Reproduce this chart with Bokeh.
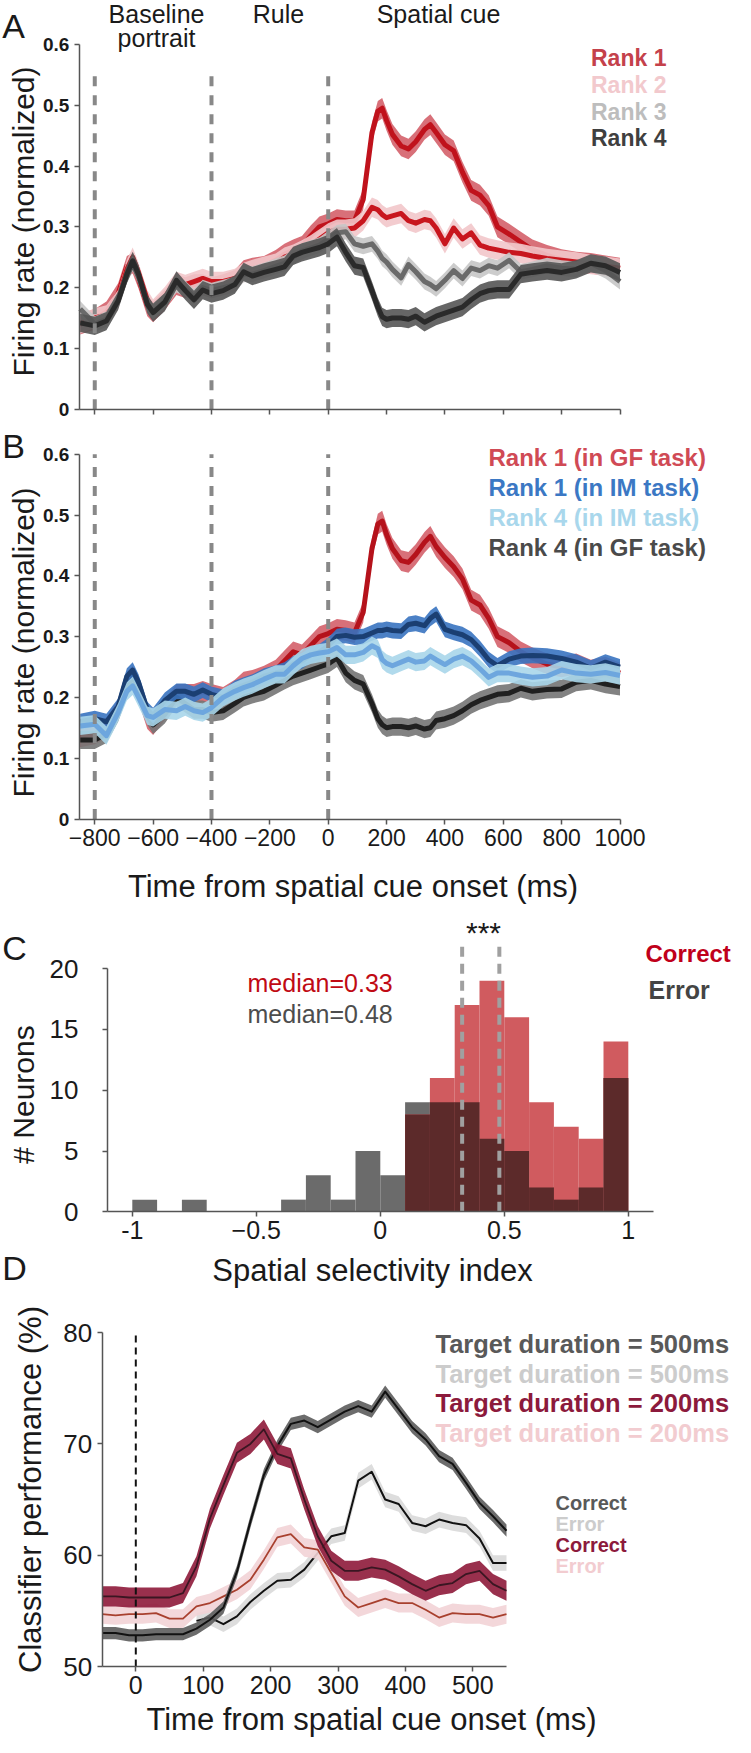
import numpy as np
from bokeh.plotting import figure
from bokeh.layouts import column
from bokeh.models import Label, Range1d, FixedTicker
from bokeh.embed import file_html
from bokeh.resources import INLINE

FONT = "Liberation Sans"
FIG_W = 735

# ================= DATA =================
# Panels A & B: time from spatial cue onset (ms)
t_ab = [-850, -800, -760, -720, -690, -670, -650, -620, -600, -560,
        -520, -490, -460, -430, -400, -360, -320, -290, -260, -220,
        -180, -150, -120, -90, -60, -30, 0, 30, 60, 90,
        120, 150, 170, 185, 200, 220, 250, 275, 300, 330,
        350, 370, 400, 430, 460, 490, 520, 550, 580, 620,
        660, 700, 750, 800, 850, 900, 950, 1000]

a_rank1 = [0.140, 0.148, 0.160, 0.190, 0.235, 0.240, 0.215, 0.170, 0.160, 0.180,
           0.205, 0.200, 0.205, 0.205, 0.200, 0.205, 0.212, 0.228, 0.232, 0.235,
           0.245, 0.255, 0.262, 0.268, 0.285, 0.300, 0.305, 0.312, 0.310, 0.310,
           0.345, 0.455, 0.490, 0.495, 0.475, 0.452, 0.433, 0.428, 0.440, 0.460,
           0.468, 0.455, 0.435, 0.425, 0.390, 0.360, 0.352, 0.335, 0.300, 0.288,
           0.275, 0.262, 0.253, 0.246, 0.242, 0.240, 0.236, 0.232]
a_rank2 = [0.140, 0.150, 0.155, 0.180, 0.230, 0.250, 0.225, 0.180, 0.165, 0.185,
           0.210, 0.205, 0.210, 0.215, 0.210, 0.210, 0.215, 0.225, 0.230, 0.235,
           0.240, 0.250, 0.255, 0.262, 0.270, 0.280, 0.290, 0.296, 0.296, 0.298,
           0.310, 0.332, 0.328, 0.320, 0.315, 0.318, 0.322, 0.310, 0.306, 0.312,
           0.310, 0.298, 0.272, 0.298, 0.280, 0.290, 0.270, 0.265, 0.262, 0.258,
           0.256, 0.252, 0.248, 0.245, 0.242, 0.238, 0.235, 0.232]
a_rank3 = [0.165, 0.140, 0.148, 0.180, 0.220, 0.240, 0.218, 0.172, 0.160, 0.178,
           0.205, 0.198, 0.185, 0.200, 0.195, 0.200, 0.205, 0.222, 0.222, 0.228,
           0.235, 0.240, 0.250, 0.260, 0.265, 0.270, 0.280, 0.290, 0.292, 0.272,
           0.268, 0.272, 0.260, 0.248, 0.242, 0.230, 0.216, 0.238, 0.226, 0.210,
           0.205, 0.198, 0.212, 0.228, 0.215, 0.232, 0.228, 0.236, 0.232, 0.245,
           0.226, 0.230, 0.236, 0.232, 0.230, 0.240, 0.228, 0.210]
a_rank4 = [0.142, 0.137, 0.145, 0.178, 0.222, 0.244, 0.222, 0.173, 0.159, 0.176,
           0.212, 0.195, 0.180, 0.196, 0.190, 0.195, 0.205, 0.226, 0.219, 0.225,
           0.230, 0.234, 0.252, 0.258, 0.262, 0.266, 0.272, 0.283, 0.258, 0.236,
           0.233, 0.195, 0.168, 0.152, 0.148, 0.150, 0.150, 0.148, 0.153, 0.143,
           0.148, 0.153, 0.158, 0.163, 0.168, 0.180, 0.190, 0.195, 0.197, 0.197,
           0.222, 0.225, 0.228, 0.225, 0.230, 0.240, 0.236, 0.225]
a_sem = [0.017, 0.016, 0.013, 0.015]
a_labels = ["Rank 1", "Rank 2", "Rank 3", "Rank 4"]

b_r1_gf = [0.135, 0.140, 0.150, 0.180, 0.225, 0.235, 0.210, 0.165, 0.155, 0.180,
           0.205, 0.205, 0.205, 0.210, 0.205, 0.200, 0.212, 0.225, 0.228, 0.235,
           0.245, 0.260, 0.275, 0.270, 0.285, 0.300, 0.305, 0.312, 0.310, 0.306,
           0.340, 0.445, 0.485, 0.490, 0.468, 0.445, 0.425, 0.422, 0.435, 0.455,
           0.465, 0.448, 0.430, 0.415, 0.395, 0.360, 0.352, 0.330, 0.300, 0.290,
           0.275, 0.265, 0.255, 0.250, 0.255, 0.245, 0.250, 0.240]
b_r4_gf = [0.130, 0.130, 0.140, 0.175, 0.215, 0.235, 0.215, 0.170, 0.155, 0.172,
           0.200, 0.190, 0.180, 0.180, 0.175, 0.178, 0.190, 0.200, 0.205, 0.210,
           0.220, 0.228, 0.235, 0.240, 0.245, 0.250, 0.255, 0.265, 0.240, 0.228,
           0.222, 0.190, 0.165, 0.155, 0.150, 0.152, 0.152, 0.150, 0.153, 0.148,
           0.150, 0.162, 0.165, 0.170, 0.178, 0.188, 0.195, 0.200, 0.205, 0.207,
           0.215, 0.210, 0.213, 0.214, 0.225, 0.228, 0.222, 0.218]
b_r1_im = [0.160, 0.165, 0.160, 0.185, 0.235, 0.245, 0.225, 0.180, 0.170, 0.195,
           0.210, 0.210, 0.205, 0.212, 0.205, 0.200, 0.215, 0.220, 0.225, 0.235,
           0.240, 0.245, 0.255, 0.260, 0.270, 0.275, 0.285, 0.300, 0.302, 0.299,
           0.300, 0.306, 0.310, 0.310, 0.312, 0.310, 0.309, 0.320, 0.322, 0.318,
           0.330, 0.337, 0.312, 0.307, 0.303, 0.295, 0.280, 0.262, 0.252, 0.263,
           0.268, 0.269, 0.268, 0.264, 0.258, 0.248, 0.258, 0.250]
b_r4_im = [0.153, 0.156, 0.137, 0.175, 0.210, 0.219, 0.200, 0.170, 0.167, 0.180,
           0.178, 0.185, 0.178, 0.175, 0.183, 0.200, 0.210, 0.216, 0.221, 0.230,
           0.238, 0.238, 0.252, 0.264, 0.270, 0.273, 0.275, 0.282, 0.270, 0.270,
           0.274, 0.285, 0.280, 0.262, 0.256, 0.252, 0.258, 0.263, 0.258, 0.260,
           0.268, 0.262, 0.254, 0.263, 0.268, 0.260, 0.247, 0.233, 0.240, 0.240,
           0.236, 0.233, 0.235, 0.245, 0.240, 0.238, 0.241, 0.236]
b_sem = [0.017, 0.013, 0.015, 0.015]
b_labels = ["Rank 1 (in GF task)", "Rank 1 (in IM task)", "Rank 4 (in IM task)", "Rank 4 (in GF task)"]

event_times = [-800, -400, 0]
epoch_names = ["Baseline", "portrait", "Rule", "Spatial cue"]
ab_xticks = [-800, -600, -400, -200, 0, 200, 400, 600, 800, 1000]
ab_yticks = [0, 0.1, 0.2, 0.3, 0.4, 0.5, 0.6]
ab_ylabel = "Firing rate (normalized)"
time_xlabel = "Time from spatial cue onset (ms)"

# Panel C: histogram of spatial selectivity index
hist_left = [-1.0, -0.9, -0.8, -0.7, -0.6, -0.5, -0.4, -0.3, -0.2, -0.1,
             0.0, 0.1, 0.2, 0.3, 0.4, 0.5, 0.6, 0.7, 0.8, 0.9]
hist_width = 0.1
hist_correct = [0, 0, 0, 0, 0, 0, 0, 0, 0, 0, 0, 8, 11, 17, 19, 16, 9, 7, 6, 14]
hist_error = [1, 0, 1, 0, 0, 0, 1, 3, 1, 5, 3, 9, 9, 9, 6, 5, 2, 1, 2, 11]
median_correct = 0.33
median_error = 0.48
c_xticks = [-1, -0.5, 0, 0.5, 1]
c_yticks = [0, 5, 10, 15, 20]

# Panel D: classifier performance (%)
t_d = [-50, -30, -10, 10, 30, 50, 70, 90, 110, 130, 150, 170, 190, 210, 230, 250,
       270, 290, 310, 330, 350, 370, 390, 410, 430, 450, 470, 490, 510, 530, 550]
d_500_correct = [53.0, 53.0, 52.8, 52.8, 52.9, 52.9, 52.9, 53.4, 54.2, 55.3, 58.5, 63.0,
                 67.2, 69.8, 71.8, 72.1, 71.5, 72.2, 72.9, 73.4, 72.9, 74.7, 73.1, 71.5,
                 70.4, 68.9, 68.2, 66.5, 64.7, 63.5, 62.2]
t_d_500_error = [90, 110, 130, 150, 170, 190, 210, 230, 250, 270, 290, 310, 330, 350,
                 370, 390, 410, 430, 450, 470, 490, 510, 530, 550]
d_500_error = [54.1, 54.4, 53.8, 54.5, 55.8, 56.8, 57.7, 57.8, 58.7, 60.2, 61.7, 62.0,
               66.7, 67.5, 65.0, 64.6, 62.9, 62.6, 63.2, 62.9, 62.7, 61.5, 59.3, 59.3]
d_200_correct = [56.3, 56.3, 56.2, 56.2, 56.2, 56.2, 56.6, 59.0, 63.3, 66.3, 69.2, 70.0,
                 71.3, 69.1, 68.7, 65.0, 61.7, 59.5, 58.6, 58.6, 58.9, 58.7, 58.1, 57.4,
                 56.8, 57.3, 57.5, 58.3, 58.6, 57.4, 56.8]
d_200_error = [54.7, 54.6, 54.7, 54.7, 54.8, 54.3, 54.3, 55.4, 55.7, 56.3, 56.9, 57.8,
               59.6, 61.6, 61.9, 60.7, 60.5, 58.4, 56.3, 55.3, 55.7, 56.1, 55.7, 55.7,
               55.1, 54.4, 54.8, 54.7, 54.7, 54.4, 54.7]
d_sem = [0.55, 0.7, 0.9, 0.85]
d_legend = ["Target duration = 500ms", "Target duration = 500ms",
            "Target duration = 200ms", "Target duration = 200ms"]
d_legend2 = ["Correct", "Error", "Correct", "Error"]
d_xticks = [0, 100, 200, 300, 400, 500]
d_yticks = [50, 60, 70, 80]


# ================= LAYOUT HELPERS =================
class Panel:
    """A figure whose frame fills the whole canvas; maps page pixels to data."""
    def __init__(self, top, bottom, ax_px, x0, xppu, ay_py, y0, yppu):
        self.top, self.bottom = top, bottom
        self.H = bottom - top
        self.ax_px, self.x0, self.xppu = ax_px, x0, xppu
        self.ay_py, self.y0, self.yppu = ay_py, y0, yppu

    def X(self, px):
        return self.x0 + (px - self.ax_px) / self.xppu

    def Y(self, py):
        return self.y0 + (self.ay_py - py) / self.yppu


def make_fig(P, xbounds, ybounds, xticks, yticks):
    p = figure(width=FIG_W, height=P.H,
               x_range=Range1d(P.X(8), P.X(8 + FIG_W)),
               y_range=Range1d(P.Y(P.bottom), P.Y(P.top)),
               output_backend="svg", toolbar_location=None, title_location=None,
               min_border_left=0, min_border_right=0, min_border_top=0, min_border_bottom=0)
    p.outline_line_color = None
    p.xgrid.visible = False
    p.ygrid.visible = False
    p.background_fill_color = "white"
    p.border_fill_color = "white"
    xa, ya = p.xaxis[0], p.yaxis[0]
    xa.fixed_location = ybounds[0]
    ya.fixed_location = xbounds[0]
    xa.bounds = xbounds
    ya.bounds = ybounds
    xa.ticker = FixedTicker(ticks=xticks)
    ya.ticker = FixedTicker(ticks=yticks)
    for ax in (xa, ya):
        ax.axis_line_color = "#555555"
        ax.axis_line_width = 1.5
        ax.major_tick_line_color = "#555555"
        ax.major_tick_line_width = 1.5
        ax.minor_tick_line_color = None
        ax.major_tick_in = 0
        ax.major_tick_out = 5
        ax.major_label_text_font = FONT
        ax.major_label_text_color = "#1a1a1a"
    return p


def add_text(p, P, px, py, text, size, color="#1a1a1a", bold=False, align="left", angle=0.0):
    p.add_layout(Label(x=P.X(px), y=P.Y(py), text=text, text_font=FONT,
                       text_font_size=f"{size}px", text_color=color,
                       text_font_style="bold" if bold else "normal",
                       text_align=align, text_baseline="middle", angle=angle))


def band_line(p, t, y, sem, band_color, line_color, lw, band_alpha=0.9):
    y = np.asarray(y, dtype=float)
    p.varea(x=t, y1=y - sem, y2=y + sem, fill_color=band_color, fill_alpha=band_alpha)
    p.line(t, y, line_color=line_color, line_width=lw, line_join="round")


# ================= PANEL A =================
PA = Panel(8, 440, 86.8, -853, 0.2918, 416.7, 0.0, 608.0)
pa = make_fig(PA, (-853, 1000), (0, 0.6), ab_xticks, ab_yticks)
pa.xaxis.major_label_overrides = {t: "" for t in ab_xticks}
pa.xaxis.major_label_text_font_size = "6px"
pa.xaxis.major_label_standoff = 0
pa.yaxis.major_label_text_font_size = "19px"
pa.yaxis.major_label_text_font_style = "bold"
pa.yaxis.major_label_standoff = 5
pa.yaxis.major_label_overrides = {0: "0"}

a_series = [a_rank1, a_rank2, a_rank3, a_rank4]
a_band = ["#d4606a", "#f2c6ca", "#c6c6c6", "#555555"]
a_line = ["#c0121c", "#c8161e", "#6a6a6a", "#2a2a2a"]
a_text = ["#c4414b", "#f2c9cd", "#bdbdbd", "#3f3f3f"]
for s, sem, bc, lc in zip(a_series, a_sem, a_band, a_line):
    band_line(pa, t_ab, s, sem, bc, lc, 5)
A_EVENT_TOP = 0.556
pa.segment(x0=event_times, y0=[0] * 3, x1=event_times, y1=[A_EVENT_TOP] * 3,
           line_color="#888888", line_width=4, line_dash="10 9")

add_text(pa, PA, 21, 33, "A", 34, align="center")
add_text(pa, PA, 164, 21, epoch_names[0], 25, align="center")
add_text(pa, PA, 164, 45, epoch_names[1], 25, align="center")
add_text(pa, PA, 286, 21, epoch_names[2], 25, align="center")
add_text(pa, PA, 446, 21, epoch_names[3], 25, align="center")
for i, (lab, col) in enumerate(zip(a_labels, a_text)):
    add_text(pa, PA, 598.5, 65.5 + 26.8 * i, lab, 23, color=col, bold=True)
add_text(pa, PA, 31, 229, ab_ylabel, 30, align="center", angle=np.pi / 2)

# ================= PANEL B =================
PB = Panel(440, 915, 86.8, -853, 0.2918, 826.5, 0.0, 608.0)
pb = make_fig(PB, (-853, 1000), (0, 0.6), ab_xticks, ab_yticks)
pb.xaxis.major_label_text_font_size = "23px"
pb.xaxis.major_label_standoff = 5
pb.yaxis.major_label_text_font_size = "19px"
pb.yaxis.major_label_text_font_style = "bold"
pb.yaxis.major_label_standoff = 5
pb.yaxis.major_label_overrides = {0: "0"}

b_series = [b_r1_gf, b_r4_gf, b_r1_im, b_r4_im]
b_sems = [b_sem[0], b_sem[3], b_sem[1], b_sem[2]]
b_band = ["#d4606a", "#747474", "#3873c0", "#a8d6ea"]
b_line = ["#b5121b", "#202020", "#1b3f72", "#6da6de"]
for s, sem, bc, lc in zip(b_series, b_sems, b_band, b_line):
    band_line(pb, t_ab, s, sem, bc, lc, 5)
B_EVENT_TOP = 0.6
pb.segment(x0=event_times, y0=[0] * 3, x1=event_times, y1=[B_EVENT_TOP] * 3,
           line_color="#888888", line_width=4, line_dash="10 9")

b_text = ["#d04a55", "#3b78c4", "#a9d7ec", "#4a4a4a"]
add_text(pb, PB, 21, 453, "B", 34, align="center")
for i, (lab, col) in enumerate(zip(b_labels, b_text)):
    add_text(pb, PB, 496, 465 + 30.1 * i, lab, 24, color=col, bold=True)
add_text(pb, PB, 31, 650, ab_ylabel, 30, align="center", angle=np.pi / 2)
add_text(pb, PB, 360.5, 894, time_xlabel, 31, align="center")

# ================= PANEL C =================
PC = Panel(915, 1300, 115, -1.1, 248.0, 1219.3, 0.0, 12.16)
pc = make_fig(PC, (-1.1, 1.1), (0, 20), c_xticks, c_yticks)
pc.xaxis.major_label_overrides = {-1: "-1", 0: "0", 1: "1"}
pc.xaxis.major_label_text_font_size = "25px"
pc.xaxis.major_label_standoff = 4
pc.yaxis.major_label_text_font_size = "26px"
pc.yaxis.major_label_standoff = 24

left = np.asarray(hist_left)
right = left + hist_width
corr = np.asarray(hist_correct, dtype=float)
err = np.asarray(hist_error, dtype=float)
overlap = np.minimum(corr, err)
pc.quad(left=left, right=right, bottom=0, top=err, fill_color="#6b6b6b", line_color=None)
pc.quad(left=left, right=right, bottom=0, top=corr, fill_color="#d05b5f", line_color=None)
pc.quad(left=left, right=right, bottom=0, top=overlap, fill_color="#5c2a2a", line_color=None)
C_MEDIAN_TOP = 22.1
pc.segment(x0=[median_correct, median_error], y0=[0, 0], x1=[median_correct, median_error],
           y1=[C_MEDIAN_TOP, C_MEDIAN_TOP], line_color="#a0a0a0", line_width=4, line_dash="10 7")

add_text(pc, PC, 22, 955, "C", 34, align="center")
add_text(pc, PC, 491, 940, "***", 30, align="center")
add_text(pc, PC, 653, 960.5, "Correct", 24, color="#c0001a", bold=True)
add_text(pc, PC, 656, 997, "Error", 25, color="#444444", bold=True)
add_text(pc, PC, 255, 990, f"median={median_correct:.2f}", 25, color="#c00a14")
add_text(pc, PC, 255, 1021, f"median={median_error:.2f}", 25, color="#4d4d4d")
add_text(pc, PC, 31, 1102, "# Neurons", 30, align="center", angle=np.pi / 2)
add_text(pc, PC, 380, 1278, "Spatial selectivity index", 31, align="center")
add_text(pc, PC, 22, 1275, "D", 34, align="center")

# ================= PANEL D =================
PD = Panel(1300, 1745, 109.6, -50, 0.674, 1674, 50.0, 11.13)
pd_ = make_fig(PD, (-50, 550), (50, 80), d_xticks, d_yticks)
pd_.xaxis.major_label_text_font_size = "25px"
pd_.xaxis.major_label_standoff = 4
pd_.yaxis.major_label_text_font_size = "26px"
pd_.yaxis.major_label_standoff = 5

band_line(pd_, t_d_500_error, d_500_error, d_sem[1], "#d9d9d9", "#111111", 2)
band_line(pd_, t_d, d_200_error, d_sem[3], "#f2d3d6", "#a8402e", 1.8)
band_line(pd_, t_d, d_500_correct, d_sem[0], "#5c5c5c", "#111111", 2)
band_line(pd_, t_d, d_200_correct, d_sem[2], "#8e1a3a", "#3a1622", 1.8)
D_ONSET_TOP = 80
pd_.segment(x0=[0], y0=[50], x1=[0], y1=[D_ONSET_TOP], line_color="#111111",
            line_width=2, line_dash="7 5")

d_text = ["#595959", "#cccccc", "#8c1a3c", "#f2ccd0"]
for i, (lab, col) in enumerate(zip(d_legend, d_text)):
    add_text(pd_, PD, 443, 1351.5 + 29.5 * i, lab, 25.5, color=col, bold=True)
for i, (lab, col) in enumerate(zip(d_legend2, d_text)):
    add_text(pd_, PD, 563, 1510 + 21.3 * i, lab, 20, color=col, bold=True)
add_text(pd_, PD, 38, 1497, "Classifier performance (%)", 31, align="center", angle=np.pi / 2)
add_text(pd_, PD, 379, 1727, time_xlabel, 31, align="center")

layout = column(pa, pb, pc, pd_, spacing=0)
open("out.html", "w").write(file_html(layout, INLINE))
